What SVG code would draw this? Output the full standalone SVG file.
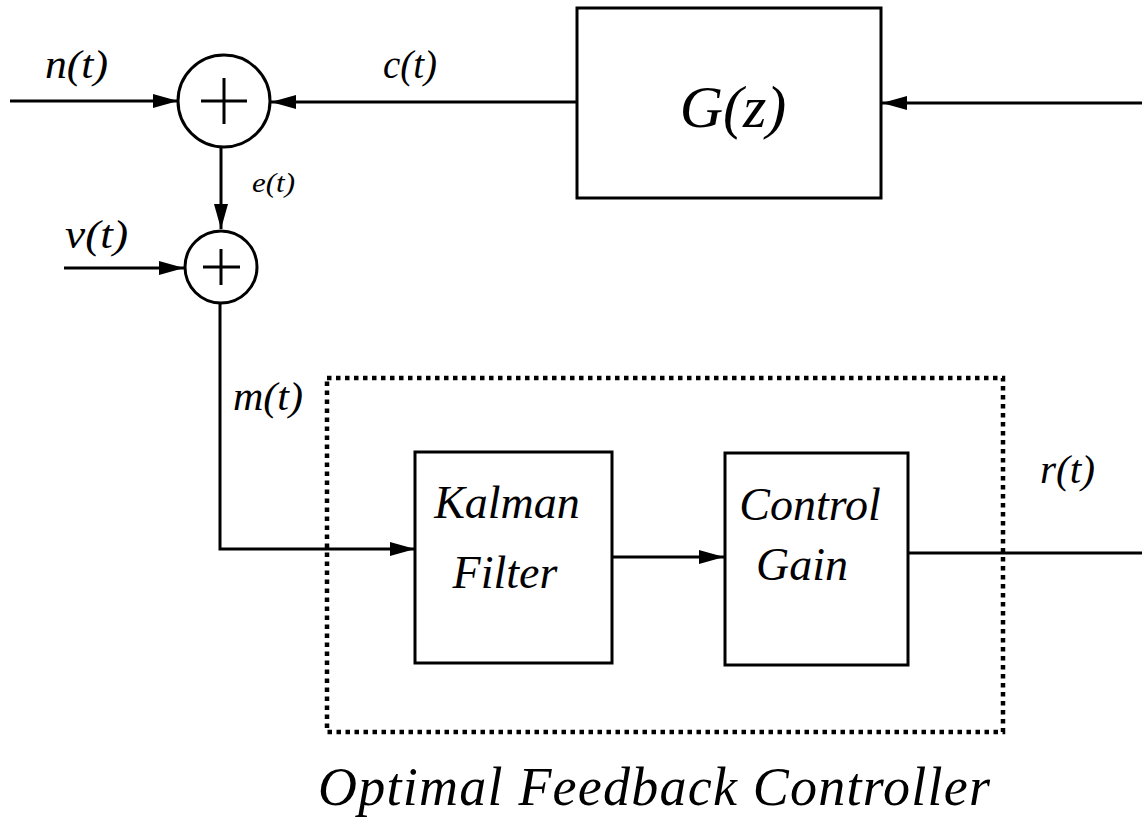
<svg xmlns="http://www.w3.org/2000/svg" width="1142" height="825" viewBox="0 0 1142 825">
<style>
.ln{fill:none;stroke:#000;stroke-width:3}
.box{fill:#fff;stroke:#000;stroke-width:3}
.t{font-family:"Liberation Serif","Times New Roman",serif;font-style:italic;fill:#000}
.dot{fill:none;stroke:#000;stroke-width:4.5;stroke-dasharray:4.5 4.5}
</style>
<defs>
<marker id="ah" markerUnits="userSpaceOnUse" markerWidth="26" markerHeight="16" refX="25" refY="7" orient="auto">
<path d="M0,0 L25,7 L0,14 Z" fill="#000"/>
</marker>
</defs>
<rect width="1142" height="825" fill="#fff"/>
<g id="connectors">
<line class="ln" x1="10" y1="101" x2="178" y2="101" marker-end="url(#ah)"/>
<line class="ln" x1="577" y1="102" x2="271" y2="102" marker-end="url(#ah)"/>
<line class="ln" x1="1142" y1="103" x2="882" y2="103" marker-end="url(#ah)"/>
<line class="ln" x1="221" y1="148" x2="221" y2="229" marker-end="url(#ah)"/>
<line class="ln" x1="64" y1="268" x2="184" y2="268" marker-end="url(#ah)"/>
<polyline class="ln" points="220,303 220,549 415,549" marker-end="url(#ah)"/>
<line class="ln" x1="612" y1="557" x2="724" y2="557" marker-end="url(#ah)"/>
<line class="ln" x1="908" y1="553" x2="1142" y2="553"/>
</g>
<g id="sum1">
<circle class="box" cx="224" cy="101" r="46"/>
<path class="ln" d="M201,101 H247 M224,78 V124"/>
</g>
<g id="sum2">
<circle class="box" cx="221" cy="267" r="36"/>
<path class="ln" d="M203,267 H240 M221,249 V285"/>
</g>
<g id="plant">
<rect class="box" x="577" y="8" width="304" height="190"/>
<text class="t" x="733" y="127" font-size="60" text-anchor="middle">G(z)</text>
</g>
<g id="controller">
<rect class="dot" x="327" y="378" width="676" height="354"/>
<text class="t" x="654" y="805" font-size="54" text-anchor="middle" textLength="672" lengthAdjust="spacing">Optimal Feedback Controller</text>
</g>
<g id="kalman">
<rect class="box" x="415" y="452" width="197" height="211"/>
<text class="t" x="507" y="518" font-size="46" text-anchor="middle">Kalman</text>
<text class="t" x="505" y="588" font-size="46" text-anchor="middle">Filter</text>
</g>
<g id="gain">
<rect class="box" x="725" y="453" width="183" height="212"/>
<text class="t" x="810" y="520" font-size="46" text-anchor="middle">Control</text>
<text class="t" x="802" y="580" font-size="46" text-anchor="middle">Gain</text>
</g>
<g id="labels">
<text class="t" x="45" y="78" font-size="40" textLength="63" lengthAdjust="spacingAndGlyphs">n(t)</text>
<text class="t" x="383" y="78" font-size="40" textLength="54" lengthAdjust="spacingAndGlyphs">c(t)</text>
<text class="t" x="252" y="192" font-size="27" textLength="43" lengthAdjust="spacingAndGlyphs">e(t)</text>
<text class="t" x="65" y="248" font-size="40" textLength="63" lengthAdjust="spacingAndGlyphs">v(t)</text>
<text class="t" x="233" y="410" font-size="40" textLength="70" lengthAdjust="spacingAndGlyphs">m(t)</text>
<text class="t" x="1040" y="483" font-size="40" textLength="55" lengthAdjust="spacingAndGlyphs">r(t)</text>
</g>
</svg>
